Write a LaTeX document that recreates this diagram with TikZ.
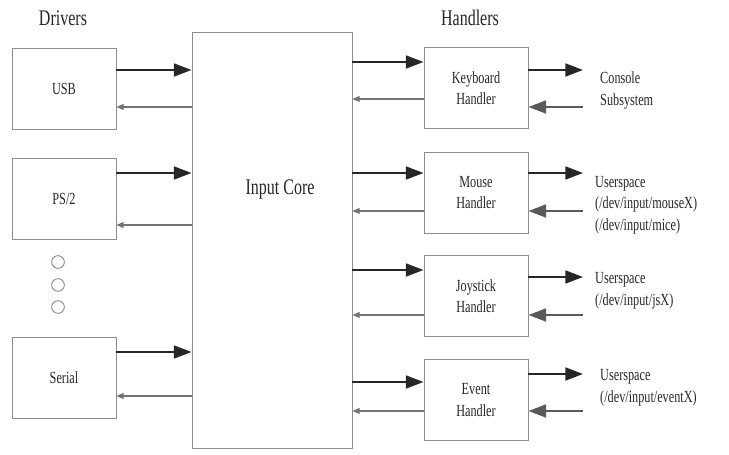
\documentclass[tikz,border=0pt]{standalone}
\usepackage{fontspec}
\setmainfont[FakeStretch=0.72]{Liberation Serif}
\usetikzlibrary{arrows.meta}
\tikzstyle{box} = [rectangle, draw = black!45, line width = 0.8pt, minimum width = 3.12cm, minimum height = 2.43cm, inner sep = 0pt, align = center, font = \fontsize{14.5}{18}\selectfont, text = black!85]
\tikzstyle{head} = [inner sep = 0pt, font = \fontsize{19}{20}\selectfont, text = black!85]
\tikzstyle{dest} = [anchor = west, align = left, inner ysep = 0pt, inner xsep = 10.2pt, font = \fontsize{14.5}{18.5}\selectfont, text = black!85]
\tikzstyle{dot} = [circle, draw = black!45, line width = 0.8pt, inner sep = 0pt, minimum size = 0.38cm]
\tikzstyle{fwd} = [-{Triangle[length = 15pt, width = 11pt]}, line width = 1.7pt, draw = black!85]
\tikzstyle{bck} = [-{Triangle[length = 6pt, width = 5pt]}, line width = 0.9pt, draw = black!55]
\tikzstyle{inp} = [-{Triangle[length = 15pt, width = 11pt]}, line width = 1.7pt, draw = black!65]

\begin{document}
\begin{tikzpicture}[x = 0.03cm, y = -0.03cm]
            \useasboundingbox (0, 0) rectangle (729, 455);
            % headings
            \node (drivers) at (63, 18) [head] {Drivers};
            \node (handlers) at (470, 18) [head] {Handlers};
            % drivers
            \node (usb) at (64, 88.5) [box] {USB};
            \node (ps2) at (64, 199) [box] {PS/2};
            \node (serial) at (64, 378) [box] {Serial};
            \foreach \y/\n in {262/a, 285/b, 307/c}
                \node (dot\n) at (58, \y) [dot] {};
            % core
            \node (core) at (272, 240) [box, minimum width = 4.8cm, minimum height = 12.48cm] {};
            \node (corelabel) at (280, 190) [head] {Input Core};
            % handlers
            \node (kbd) at (476, 88) [box] {Keyboard\\Handler};
            \node (mouse) at (476, 192.5) [box] {Mouse\\Handler};
            \node (joy) at (476, 296) [box] {Joystick\\Handler};
            \node (event) at (476, 400) [box] {Event\\Handler};
            % destinations
            \node (console) at (583, 90.5) [dest, inner xsep = 14.5pt] {Console\\Subsystem};
            \node (mousedev) at (583, 205) [dest] {Userspace\\(/dev/input/mouseX)\\(/dev/input/mice)};
            \node (joydev) at (583, 291) [dest] {Userspace\\(/dev/input/jsX)};
            \node (evdev) at (583, 388) [dest, inner xsep = 14.5pt] {Userspace\\(/dev/input/eventX)};
            % drivers <-> core
            \draw [fwd] (usb.east |- 0, 70) -- (core.west |- 0, 70);
            \draw [bck] (core.west |- 0, 107) -- (usb.east |- 0, 107);
            \draw [fwd] (ps2.east |- 0, 173) -- (core.west |- 0, 173);
            \draw [bck] (core.west |- 0, 225) -- (ps2.east |- 0, 225);
            \draw [fwd] (serial.east |- 0, 352) -- (core.west |- 0, 352);
            \draw [bck] (core.west |- 0, 396) -- (serial.east |- 0, 396);
            % core <-> handlers
            \draw [fwd] (core.east |- 0, 62) -- (kbd.west |- 0, 62);
            \draw [bck] (kbd.west |- 0, 99) -- (core.east |- 0, 99);
            \draw [fwd] (core.east |- 0, 173) -- (mouse.west |- 0, 173);
            \draw [bck] (mouse.west |- 0, 211) -- (core.east |- 0, 211);
            \draw [fwd] (core.east |- 0, 270) -- (joy.west |- 0, 270);
            \draw [bck] (joy.west |- 0, 315) -- (core.east |- 0, 315);
            \draw [fwd] (core.east |- 0, 382) -- (event.west |- 0, 382);
            \draw [bck] (event.west |- 0, 411) -- (core.east |- 0, 411);
            % handlers <-> userspace
            \draw [fwd] (kbd.east |- 0, 70) -- (console.west |- 0, 70);
            \draw [inp] (console.west |- 0, 107) -- (kbd.east |- 0, 107);
            \draw [fwd] (mouse.east |- 0, 173) -- (mousedev.west |- 0, 173);
            \draw [inp] (mousedev.west |- 0, 211) -- (mouse.east |- 0, 211);
            \draw [fwd] (joy.east |- 0, 277) -- (joydev.west |- 0, 277);
            \draw [inp] (joydev.west |- 0, 315) -- (joy.east |- 0, 315);
            \draw [fwd] (event.east |- 0, 374) -- (evdev.west |- 0, 374);
            \draw [inp] (evdev.west |- 0, 411) -- (event.east |- 0, 411);
        \end{tikzpicture}
\end{document}
